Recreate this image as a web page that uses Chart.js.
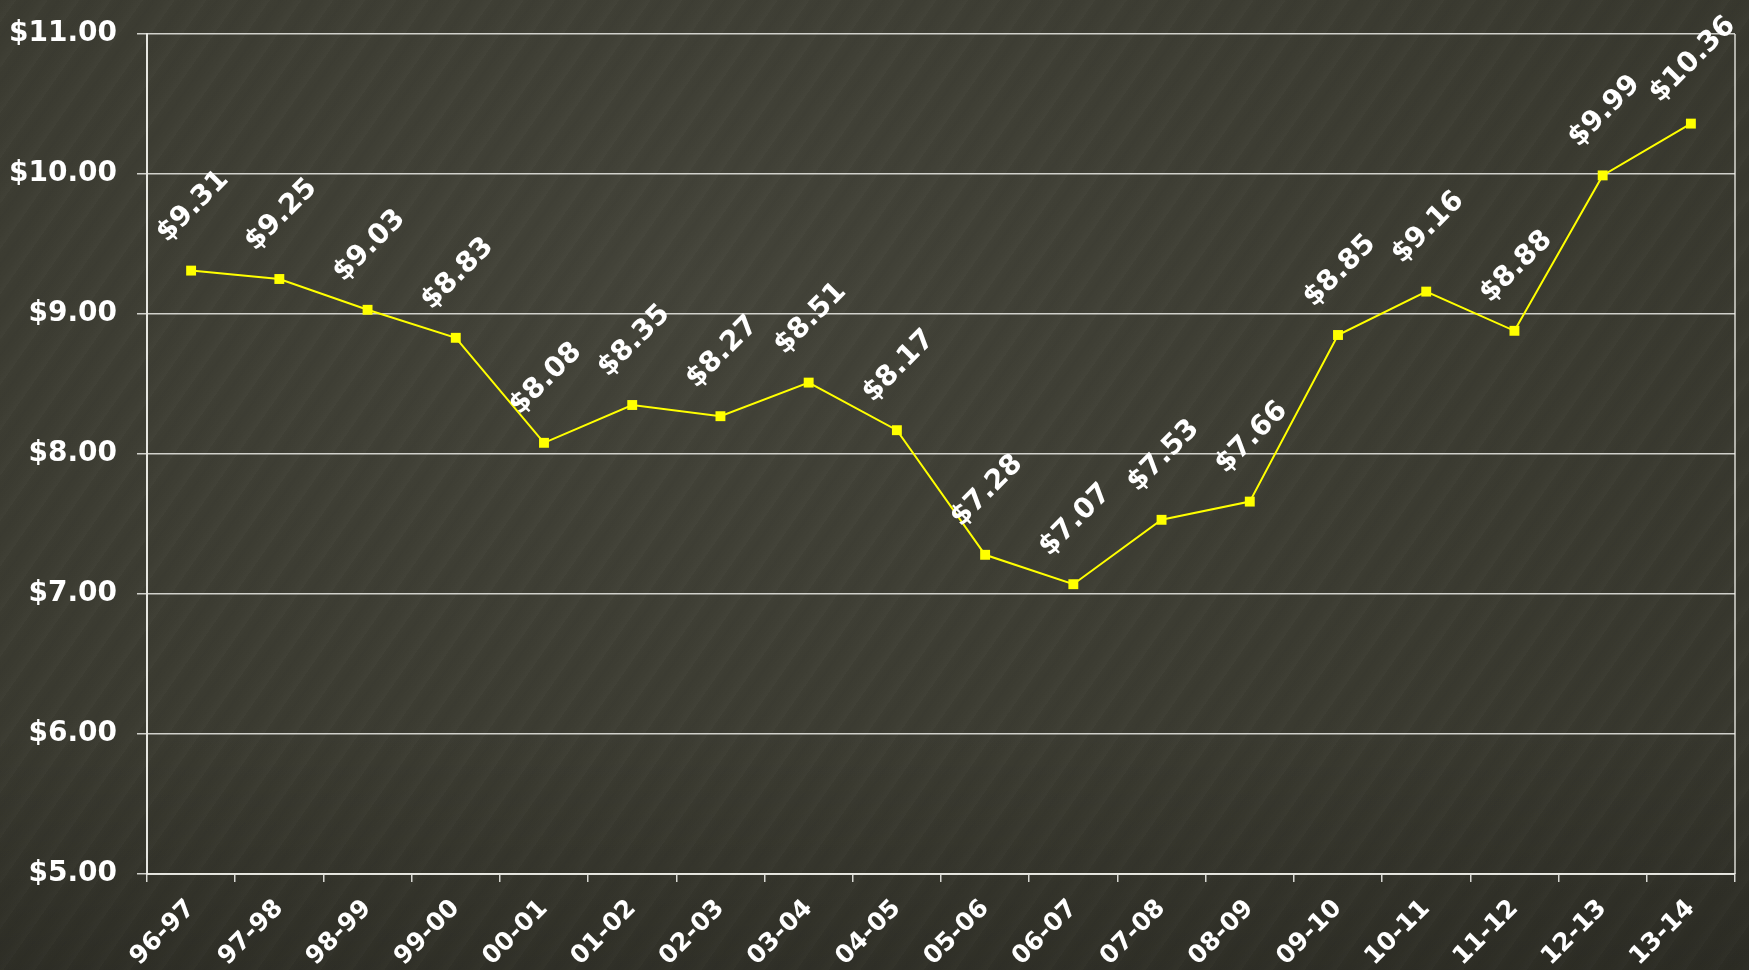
<!DOCTYPE html>
<html>
<head>
<meta charset="utf-8">
<script src="https://cdn.jsdelivr.net/npm/chart.js@4"></script>
<style>
  html, body { margin: 0; padding: 0; }
  body {
    width: 1749px; height: 970px; overflow: hidden;
    background-color: #3b3b31;
    background-image:
      linear-gradient(180deg, rgba(0,0,0,0) 0%, rgba(0,0,0,0) 75%, rgba(0,0,0,0.16) 100%),
      repeating-linear-gradient(-55deg, rgba(255,255,240,0.02) 0px, rgba(255,255,240,0.0) 9px, rgba(0,0,0,0.03) 17px, rgba(255,255,240,0.0) 26px),
      radial-gradient(ellipse at 40% 30%, #44443a 0%, #3b3b31 60%, #34342b 100%);
  }
  #wrap { position: absolute; left: 0; top: 0; width: 1749px; height: 970px; }
</style>
</head>
<body>
<div id="wrap"><canvas id="c" width="1749" height="970"></canvas></div>
<script>
const categories = ["96-97","97-98","98-99","99-00","00-01","01-02","02-03","03-04","04-05","05-06","06-07","07-08","08-09","09-10","10-11","11-12","12-13","13-14"];
const costPerUnit = [9.31, 9.25, 9.03, 8.83, 8.08, 8.35, 8.27, 8.51, 8.17, 7.28, 7.07, 7.53, 7.66, 8.85, 9.16, 8.88, 9.99, 10.36];
const yTicks = [5, 6, 7, 8, 9, 10, 11];

const FONT = '"DejaVu Sans", Verdana, sans-serif';

const labelPlugin = {
  id: 'rotLabels',
  afterDatasetsDraw(chart) {
    const ctx = chart.ctx;
    const meta = chart.getDatasetMeta(0);
    ctx.save();
    ctx.fillStyle = '#ffffff';
    ctx.font = 'bold 28px ' + FONT;
    ctx.textAlign = 'center';
    ctx.textBaseline = 'middle';
    meta.data.forEach((pt, i) => {
      ctx.save();
      ctx.translate(pt.x + 2, pt.y - 64);
      ctx.rotate(-Math.PI / 4);
      ctx.fillText('$' + costPerUnit[i].toFixed(2), 0, 0);
      ctx.restore();
    });
    ctx.restore();
  }
};

const borderPlugin = {
  id: 'rightBorder',
  beforeDatasetsDraw(chart) {
    const {ctx, chartArea} = chart;
    ctx.save();
    ctx.strokeStyle = 'rgba(235,235,230,0.9)';
    ctx.lineWidth = 1.5;
    ctx.beginPath();
    ctx.moveTo(chartArea.right, chartArea.top);
    ctx.lineTo(chartArea.right, chartArea.bottom);
    ctx.stroke();
    ctx.restore();
  }
};

new Chart(document.getElementById('c'), {
  type: 'line',
  data: {
    labels: categories,
    datasets: [{
      data: costPerUnit,
      borderColor: '#ffff00',
      borderWidth: 2,
      backgroundColor: '#ffff00',
      pointStyle: 'rect',
      pointRadius: 7,
      pointBorderWidth: 0,
      pointBackgroundColor: '#ffff00',
      tension: 0,
      fill: false
    }]
  },
  options: {
    responsive: false,
    animation: false,
    layout: { padding: { top: 34, right: 14, left: 0, bottom: 0 } },
    plugins: { legend: { display: false }, tooltip: { enabled: false } },
    scales: {
      x: {
        offset: true,
        grid: { offset: true, drawOnChartArea: false, drawTicks: true, tickLength: 8, color: 'rgba(235,235,230,0.9)', lineWidth: 1.5 },
        border: { color: 'rgba(235,235,230,0.9)', width: 2 },
        ticks: {
          color: '#ffffff',
          font: { family: FONT, size: 25, weight: 'bold' },
          minRotation: 45, maxRotation: 45,
          padding: 12,
          autoSkip: false
        },
        afterFit(scale) { scale.height = 96; }
      },
      y: {
        min: 5, max: 11,
        afterBuildTicks(scale) { scale.ticks = yTicks.map(v => ({ value: v })); },
        grid: { color: 'rgba(235,235,230,0.85)', lineWidth: 1.5, tickLength: 10, drawTicks: true },
        border: { color: 'rgba(240,240,235,0.95)', width: 2 },
        ticks: {
          color: '#ffffff',
          font: { family: FONT, size: 28, weight: 'bold' },
          padding: 20,
          callback: v => '$' + Number(v).toFixed(2)
        },
        afterFit(scale) { scale.width = 147; scale.paddingTop = 0; scale.paddingBottom = 0; }
      }
    }
  },
  plugins: [borderPlugin, labelPlugin]
});
</script>
</body>
</html>
